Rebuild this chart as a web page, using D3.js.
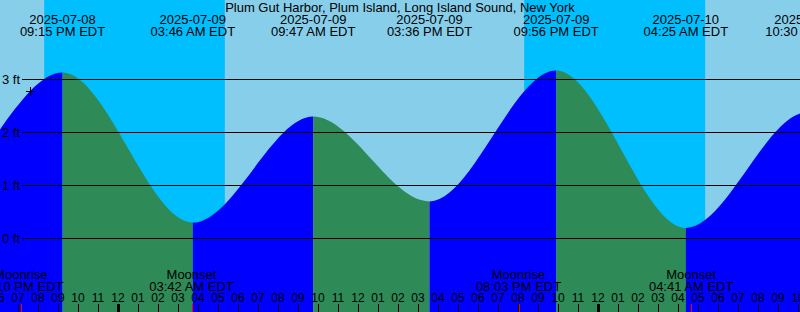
<!DOCTYPE html>
<html lang="en">
<head>
<meta charset="utf-8">
<title>Plum Gut Harbor tide graph</title>
<script src="https://cdn.jsdelivr.net/npm/d3@7"></script>
<style>
  body { margin: 0; }
  svg text { font-family: "Liberation Sans", Arial, sans-serif; fill: black; }
  .grid line { stroke: black; stroke-width: 1; shape-rendering: crispEdges; }
  .hours .domain { display: none; }
  .hours line { stroke: black; shape-rendering: crispEdges; }
</style>
</head>
<body>
<script>
// tide extremes (local EDT time, feet); first and last ones lie off the picture
var tideTimes = ["2025-07-08 08:40", "2025-07-08 14:50", "2025-07-08 21:15", "2025-07-09 03:46",
                 "2025-07-09 09:47", "2025-07-09 15:36", "2025-07-09 21:56", "2025-07-10 04:25",
                 "2025-07-10 10:30", "2025-07-10 16:20"]
var tideHeights = [2.3, 0.9, 3.13, 0.30, 2.30, 0.70, 3.17, 0.20, 2.38, 0.6]

var sunsetTimes = ["2025-07-08 20:20", "2025-07-09 20:20"]
var sunriseTimes = ["2025-07-09 05:22", "2025-07-10 05:23"]

var moonNames = ["Moonrise", "Moonset", "Moonrise", "Moonset"]
var moonTimes = ["2025-07-08 19:10", "2025-07-09 03:42", "2025-07-09 20:03", "2025-07-10 04:41"]

var gridFeet = [0, 1, 2, 3]
var title = "Plum Gut Harbor, Plum Island, Long Island Sound, New York"

var w = 800
var h = 312

var parse = d3.utcParse("%Y-%m-%d %H:%M")
var fmtDate = d3.utcFormat("%Y-%m-%d")
var fmtTime = d3.utcFormat("%I:%M %p EDT")

var tides = tideTimes.map(function(t, i){ return {t: parse(t), h: tideHeights[i]} })

// picture spans 18:07:30 on the 8th to 10:07:30 on the 10th
var xScale = d3.scaleUtc()
               .domain([new Date(Date.UTC(2025, 6, 8, 18, 7, 30)), new Date(Date.UTC(2025, 6, 10, 10, 7, 30))])
               .range([0, w])

var yScale = d3.scaleLinear()
               .domain([0, 3])
               .range([238.5, 79.5])

var svg = d3.select("body").append("svg")
            .attr("width", w)
            .attr("height", h)

// daylight + night background
svg.append("rect").attr("width", w).attr("height", h).attr("fill", "#87ceeb")
svg.selectAll("rect.night")
   .data(sunsetTimes)
   .enter()
   .append("rect")
   .attr("class", "night")
   .attr("x", function(d){ return xScale(parse(d)) })
   .attr("width", function(d, i){ return xScale(parse(sunriseTimes[i])) - xScale(parse(d)) })
   .attr("y", 0)
   .attr("height", h)
   .attr("fill", "#00bfff")

// water: area under the tide curve, blue while rising, green while falling
var area = d3.area()
             .x(function(d){ return xScale(d.t) })
             .y0(h)
             .y1(function(d){ return yScale(d.h) })
             .curve(d3.curveMonotoneX)

svg.append("clipPath").attr("id", "water")
   .append("path").attr("d", area(tides))

var segs = d3.pairs(tides)
svg.append("g").attr("clip-path", "url(#water)")
   .selectAll("rect")
   .data(segs)
   .enter()
   .append("rect")
   .attr("x", function(d){ return xScale(d[0].t) })
   .attr("width", function(d){ return xScale(d[1].t) - xScale(d[0].t) })
   .attr("y", 0)
   .attr("height", h)
   .attr("fill", function(d){ return d[1].h > d[0].h ? "#0000ff" : "#2e8b57" })

// depth grid
var grid = svg.append("g").attr("class", "grid")
grid.selectAll("line")
    .data(gridFeet)
    .enter()
    .append("line")
    .attr("x1", 22).attr("x2", w)
    .attr("y1", function(d){ return yScale(d) })
    .attr("y2", function(d){ return yScale(d) })
grid.selectAll("text")
    .data(gridFeet)
    .enter()
    .append("text")
    .attr("x", 20)
    .attr("y", function(d){ return yScale(d) + 4.5 })
    .attr("text-anchor", "end")
    .style("font-size", "13px")
    .text(function(d){ return d + " ft" })

svg.append("path")
   .attr("d", "M26,91.5H35M30.5,87V96")
   .attr("stroke", "black")
   .attr("fill", "none")
   .style("shape-rendering", "crispEdges")

// title and tide event labels
svg.append("text")
   .attr("x", 400).attr("y", 12)
   .attr("text-anchor", "middle")
   .style("font-size", "13px")
   .text(title)

var shown = tides.filter(function(d){ var x = xScale(d.t); return x > -50 && x < w + 50 })
var tl = svg.selectAll("g.tlabel")
            .data(shown)
            .enter()
            .append("g")
            .attr("class", "tlabel")
            .attr("transform", function(d){ return "translate(" + xScale(d.t) + ",0)" })
tl.append("text").attr("y", 24).attr("text-anchor", "middle").style("font-size", "13px")
  .text(function(d){ return fmtDate(d.t) })
tl.append("text").attr("y", 36).attr("text-anchor", "middle").style("font-size", "13px")
  .text(function(d){ return fmtTime(d.t) })

// moon labels
var moon = moonTimes.map(function(t, i){ return {t: parse(t), name: moonNames[i]} })
var ml = svg.selectAll("g.mlabel")
            .data(moon)
            .enter()
            .append("g")
            .attr("class", "mlabel")
            .attr("transform", function(d){ return "translate(" + xScale(d.t) + ",0)" })
ml.append("text").attr("y", 278.5).attr("text-anchor", "middle").style("font-size", "13px")
  .text(function(d){ return d.name })
ml.append("text").attr("y", 290.5).attr("text-anchor", "middle").style("font-size", "13px")
  .text(function(d){ return fmtTime(d.t) })

// hour axis along the bottom; widened a bit so the half-cut edge labels still show
var axisScale = xScale.copy()
                      .domain([xScale.invert(-20), xScale.invert(w + 20)])
                      .range([-20, w + 20])
var hourAxis = d3.axisTop(axisScale)
                 .ticks(d3.utcHour.every(1))
                 .tickFormat(d3.utcFormat("%I"))
                 .tickSizeInner(8)
                 .tickSizeOuter(0)
                 .tickPadding(2)

var ha = svg.append("g")
            .attr("class", "hours")
            .attr("transform", "translate(0," + h + ")")
            .call(hourAxis)
ha.selectAll("text")
  .style("font-family", "Liberation Sans, Arial, sans-serif")
  .style("font-size", "12px")
  .attr("y", -10.5)
ha.selectAll(".tick line")
  .attr("stroke-width", function(d){ return d.getUTCHours() == 0 ? 3 : 1 })

// moon event ticks
svg.selectAll("line.moontick")
   .data(moon)
   .enter()
   .append("line")
   .attr("class", "moontick")
   .attr("x1", function(d){ return Math.round(xScale(d.t)) + 0.5 })
   .attr("x2", function(d){ return Math.round(xScale(d.t)) + 0.5 })
   .attr("y1", h - 8).attr("y2", h)
   .attr("stroke", "red")
   .style("shape-rendering", "crispEdges")
</script>
</body>
</html>
